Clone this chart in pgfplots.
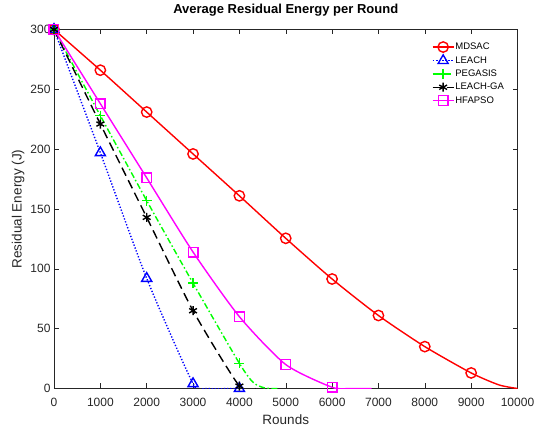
\documentclass[border=0pt]{standalone}
\usepackage{fontspec}
\setmainfont{Liberation Sans}
\usepackage{pgfplots}
\pgfplotsset{compat=1.18}
\definecolor{axgray}{rgb}{0.15,0.15,0.15}
\definecolor{cR}{rgb}{1,0,0}
\definecolor{cB}{rgb}{0,0,1}
\definecolor{cG}{rgb}{0,1,0}
\definecolor{cK}{rgb}{0,0,0}
\definecolor{cM}{rgb}{1,0,1}
\begin{document}
\begin{tikzpicture}[x=1pt,y=1pt]
\path[use as bounding box] (0,0) rectangle (535,430);
\begin{axis}[
  at={(54pt,41.5pt)}, anchor=south west, scale only axis,
  width=463.5pt, height=359pt,
  xmin=0, xmax=10000, ymin=0, ymax=300,
  xtick={0,1000,...,10000}, ytick={0,50,...,300},
  scaled x ticks=false,
  /pgf/number format/1000 sep=,
  /pgf/number format/assume math mode=true,
  tick label style={font=\fontsize{12}{14}\selectfont, color=axgray},
  xticklabel style={anchor=base, yshift=-18pt},
  tick align=inside, major tick length=5pt,
  axis line style={axgray, line width=0.5pt},
  every tick/.style={axgray, line width=0.5pt},
  title={\textbf{Average Residual Energy per Round}},
  title style={font=\fontsize{13}{15}\selectfont, at={(axis description cs:0.5,1)}, anchor=base, yshift=9.5pt},
  xlabel={Rounds}, ylabel={Residual Energy (J)},
  label style={font=\fontsize{13.5}{15}\selectfont, color=axgray},
  xlabel style={at={(axis description cs:0.5,-0.099)}, anchor=base},
  ylabel style={at={(axis description cs:-0.07,0.5)}, anchor=base},
  legend style={at={(0.815,0.967)}, anchor=north west, draw=white, fill=white,
    font=\fontsize{9.5}{10}\selectfont, row sep=2.3pt, inner sep=0pt,
    nodes={inner sep=1pt, text height=7pt, text depth=2pt},
    cells={anchor=west}},
  legend image code/.code={\draw[mark indices={2}] plot coordinates {(0pt,0pt)(10.5pt,0pt)(21pt,0pt)};},
  every axis plot/.append style={line width=1.4pt},
]
\addplot[cR, smooth, tension=0.4, mark=o, mark size=5.2pt, mark indices={1,...,10}]
  coordinates {(0,300)(1000,266)(2000,231)(3000,196)(4000,161)(5000,125.5)(6000,91.5)(7000,61)(8000,35)(9000,13)(9600,3)(10000,0)};
\addlegendentry{MDSAC}
\addplot[cB, dash pattern=on 1.3pt off 1.8pt, smooth, tension=0.4, mark=triangle, mark size=5.8pt, mark options={solid}, mark indices={1,2,3,4,6}]
  coordinates {(0,300)(1000,197)(2000,92)(3000,4)(3250,0)(4000,0)};
\addlegendentry{LEACH}
\addplot[cG, dash pattern=on 6pt off 2.5pt on 1.5pt off 2.5pt, smooth, tension=0.4, mark=+, mark size=5pt, mark options={solid}, mark indices={1,...,5}]
  coordinates {(0,300)(1000,228)(2000,157)(3000,88)(4000,21)(4300,5)(4550,0.4)(4850,0)};
\addlegendentry{PEGASIS}
\addplot[cK, dash pattern=on 9pt off 5pt, smooth, tension=0.4, mark=asterisk, mark size=4.5pt, mark options={solid}, mark indices={1,...,5}]
  coordinates {(0,300)(1000,221)(2000,143)(3000,65)(4000,2)(4350,0)};
\addlegendentry{LEACH-GA}
\addplot[cM, smooth, tension=0.4, mark=square, mark size=4.8pt, mark indices={1,...,7}]
  coordinates {(0,300)(1000,238)(2000,176)(3000,114)(4000,60)(5000,20)(6000,1)(6400,0)(6850,0)};
\addlegendentry{HFAPSO}
\end{axis}
\end{tikzpicture}
\end{document}
